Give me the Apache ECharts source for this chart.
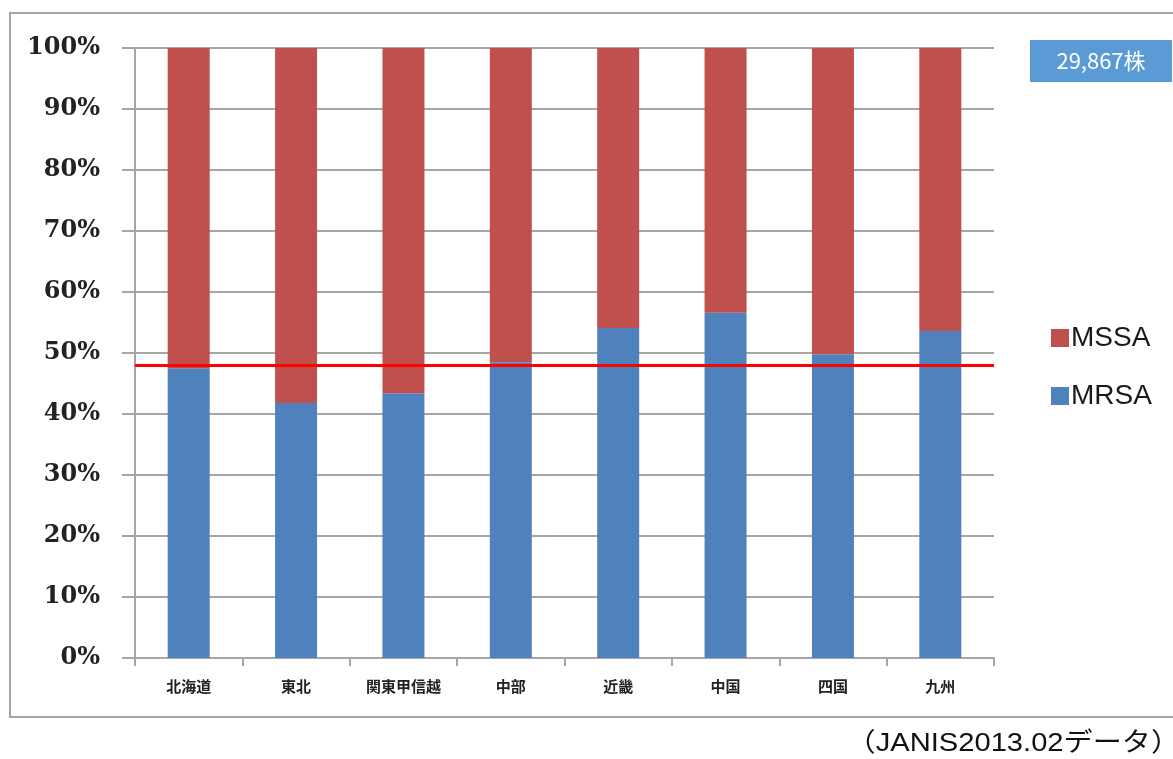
<!DOCTYPE html>
<html>
<head>
<meta charset="utf-8">
<script src="https://cdn.jsdelivr.net/npm/echarts@6/dist/echarts.min.js"></script>
<style>
  html, body { margin: 0; padding: 0; background: #fff; }
  #chart { width: 1173px; height: 759px; }
</style>
</head>
<body>
<div id="chart"></div>
<script>
// 地域別 MRSA / MSSA 比率
const regions = ['北海道', '東北', '関東甲信越', '中部', '近畿', '中国', '四国', '九州']
const mrsa = [47.5, 41.8, 43.4, 48.5, 54.1, 56.6, 49.8, 53.6]
const mssa = [52.5, 58.2, 56.6, 51.5, 45.9, 43.4, 50.2, 46.4]
const average = 48.0
const totalLabel = '29,867株'
const source = '（JANIS2013.02データ）'

const gray = '#a6a6a6'

let option = {
  animation: false,
  backgroundColor: '#fff',
  grid: { left: 135, right: 179, top: 48, bottom: 101 },
  legend: {
    orient: 'vertical',
    left: 1046,
    top: 319,
    icon: 'rect',
    itemWidth: 18,
    itemHeight: 18,
    itemGap: 30,
    textStyle: { fontSize: 28, fontFamily: 'Liberation Sans', color: '#1a1a1a', padding: [0, 0, 0, -3] },
    data: ['MSSA', 'MRSA']
  },
  xAxis: {
    type: 'category',
    data: regions,
    axisLine: { lineStyle: { color: gray, width: 2 } },
    axisTick: { show: true, length: 8, lineStyle: { color: gray, width: 2 } },
    axisLabel: {
      margin: 21,
      fontSize: 15,
      fontWeight: 'bold',
      color: '#222',
      fontFamily: 'Noto Sans CJK JP'
    }
  },
  yAxis: {
    type: 'value',
    min: 0,
    max: 100,
    interval: 10,
    axisLine: { show: true, lineStyle: { color: gray, width: 2 } },
    axisTick: { show: true, length: 13, lineStyle: { color: gray, width: 2 } },
    splitLine: { lineStyle: { color: gray, width: 2 } },
    axisLabel: {
      formatter: '{value}%',
      margin: 35,
      fontSize: 24,
      fontWeight: 'bold',
      color: '#222',
      fontFamily: 'DejaVu Serif'
    }
  },
  series: [
    {
      name: 'MRSA',
      type: 'bar',
      stack: 'total',
      barWidth: 42,
      itemStyle: { color: '#4f81bd' },
      data: mrsa,
      markLine: {
        silent: true,
        symbol: 'none',
        label: { show: false },
        lineStyle: { color: '#ff0000', width: 3, type: 'solid' },
        data: [{ yAxis: average }]
      }
    },
    {
      name: 'MSSA',
      type: 'bar',
      stack: 'total',
      barWidth: 42,
      itemStyle: { color: '#c0504d' },
      data: mssa
    }
  ],
  graphic: [
    {
      type: 'rect',
      z: -10,
      shape: { x: 10, y: 13, width: 1200, height: 704 },
      style: { fill: 'none', stroke: '#a6a6a6', lineWidth: 2 }
    },
    {
      type: 'rect',
      shape: { x: 1030, y: 40, width: 142, height: 42 },
      style: { fill: '#5b9bd5' }
    },
    {
      type: 'text',
      x: 1101,
      y: 61,
      style: {
        text: totalLabel,
        fill: '#fff',
        fontSize: 22,
        fontFamily: 'Noto Sans CJK JP',
        align: 'center',
        verticalAlign: 'middle'
      }
    },
    {
      type: 'text',
      x: 1180,
      y: 744,
      scaleX: 1.12,
      style: {
        text: source,
        fill: '#111',
        fontSize: 26,
        fontFamily: 'Liberation Sans, Noto Sans CJK JP',
        align: 'right',
        verticalAlign: 'middle'
      }
    }
  ]
}

let myChart = echarts.init(document.getElementById('chart'))
myChart.setOption(option)
</script>
</body>
</html>
